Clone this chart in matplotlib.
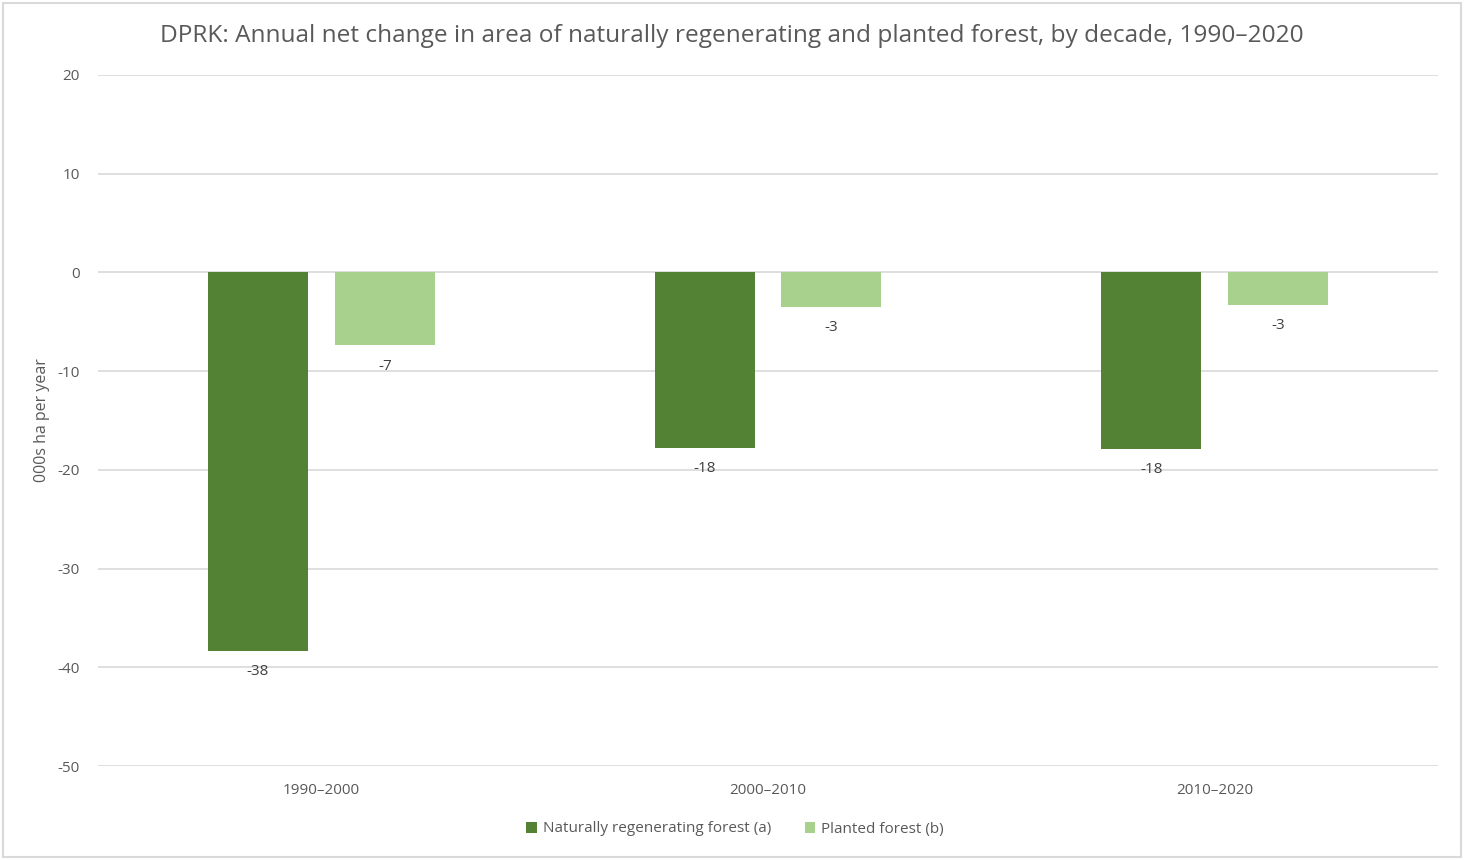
import numpy as np
import matplotlib.pyplot as plt
from matplotlib.patches import Rectangle

# Data
decades = ['1990–2000', '2000–2010', '2010–2020']
natural = [-38.3, -17.8, -17.9]
planted = [-7.4, -3.5, -3.3]
natural_labels = ['-38', '-18', '-18']
planted_labels = ['-7', '-3', '-3']
series_names = ['Naturally regenerating forest (a)', 'Planted forest (b)']

plt.rcParams['font.family'] = ['Open Sans', 'DejaVu Sans']
plt.rcParams['axes.unicode_minus'] = False

dark_green = '#548235'
light_green = '#A9D18E'
text_col = '#595959'

fig = plt.figure(figsize=(14.64, 8.6), dpi=100)
ax = fig.add_axes([98 / 1464, 1 - 766 / 860, 1340 / 1464, (766 - 75) / 860])

x = np.arange(len(decades))
w = 0.224
off = 0.142
b1 = ax.bar(x - off, natural, w, color=dark_green, label=series_names[0], zorder=3)
b2 = ax.bar(x + off, planted, w, color=light_green, label=series_names[1], zorder=3)

for rect, lab in zip(b1, natural_labels):
    ax.annotate(lab, (rect.get_x() + rect.get_width() / 2, rect.get_height()),
                xytext=(0, -15), textcoords='offset points', ha='center', va='center',
                fontsize=11, color='#404040')
for rect, lab in zip(b2, planted_labels):
    ax.annotate(lab, (rect.get_x() + rect.get_width() / 2, rect.get_height()),
                xytext=(0, -15), textcoords='offset points', ha='center', va='center',
                fontsize=11, color='#404040')

ax.set_xlim(-0.5, 2.5)
ax.set_ylim(-50, 20)
ax.set_yticks(range(-50, 21, 10))
ax.set_xticks(x)
ax.set_xticklabels(decades)
ax.tick_params(axis='both', length=0, labelsize=11, colors=text_col)
ax.tick_params(axis='y', pad=13)
ax.tick_params(axis='x', pad=12)
ax.grid(axis='y', color='#D9D9D9', linewidth=1.2, zorder=0)
for s in ax.spines.values():
    s.set_visible(False)

ax.set_ylabel('000s ha per year', fontsize=11.5, color=text_col)
ax.yaxis.set_label_coords(-0.036, 0.5)
fig.text(0.5, 1 - 36 / 860, 'DPRK: Annual net change in area of naturally regenerating and planted forest, by decade, 1990–2020',
         ha='center', va='center', fontsize=17.6, color=text_col)

leg = fig.legend(loc='center', bbox_to_anchor=(735 / 1464, 1 - 829 / 860), ncol=2, frameon=False,
                 fontsize=11, handlelength=0.7, handleheight=0.7, handletextpad=0.4, columnspacing=2.2)
for t in leg.get_texts():
    t.set_color(text_col)

fig.patches.append(Rectangle((3 / 1464, 3 / 860), 1 - 6 / 1464, 1 - 6 / 860, transform=fig.transFigure,
                             fill=False, edgecolor='#D9D9D9', linewidth=1.5))

fig.savefig('out.png', dpi=100)
